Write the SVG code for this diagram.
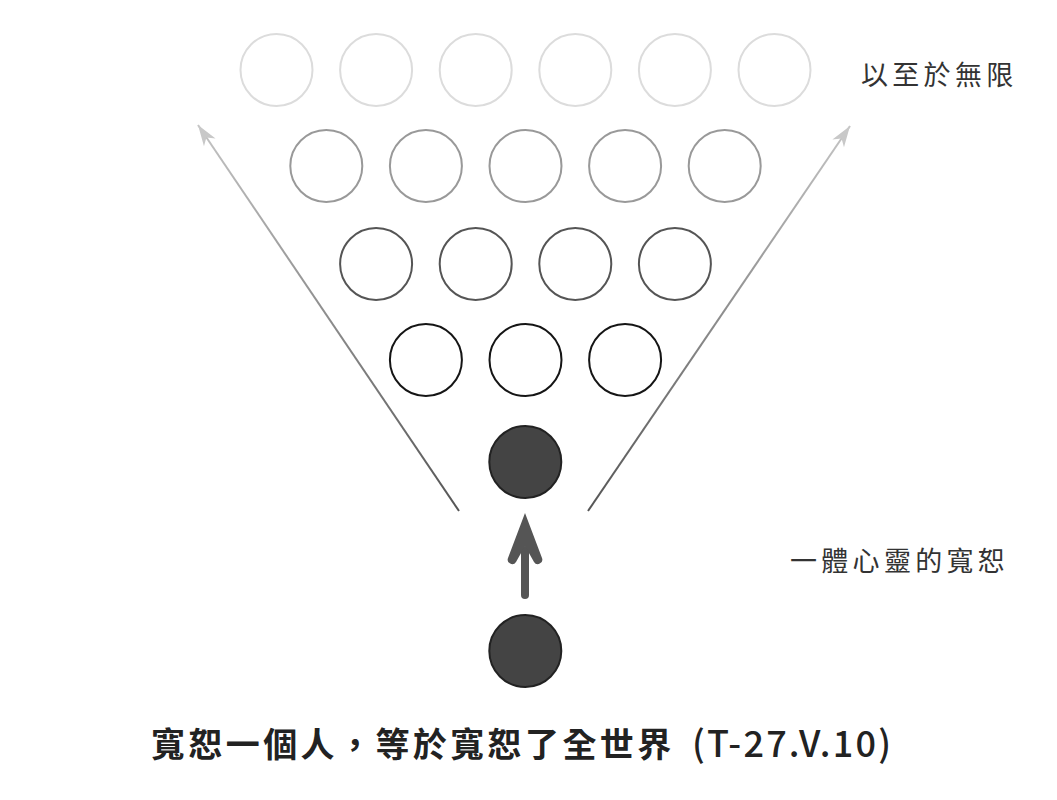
<svg xmlns="http://www.w3.org/2000/svg" width="1057" height="800" viewBox="0 0 1057 800">
<defs>
<style>
.c{fill:none;stroke-width:2}
.r1{stroke:#dcdcdc}
.r2{stroke:#999}
.r3{stroke:#555}
.r4{stroke:#151515}
.dark{fill:#444;stroke:#222;stroke-width:2}
.lbl{font-family:"Noto Sans CJK TC","Noto Sans CJK SC",sans-serif;font-size:27px;fill:#333;letter-spacing:4.3px}
.title{font-family:"Noto Sans CJK TC","Noto Sans CJK SC",sans-serif;font-size:34px;font-weight:700;fill:#222;letter-spacing:3.4px}
.latin{font-size:36px;font-weight:500;letter-spacing:2.2px}
</style>
<linearGradient id="gL" gradientUnits="userSpaceOnUse" x1="459" y1="511" x2="198" y2="125">
<stop offset="0" stop-color="#555"/><stop offset="1" stop-color="#c4c4c4"/>
</linearGradient>
<linearGradient id="gR" gradientUnits="userSpaceOnUse" x1="588" y1="511" x2="850" y2="126">
<stop offset="0" stop-color="#555"/><stop offset="1" stop-color="#c4c4c4"/>
</linearGradient>
<marker id="ah" markerUnits="userSpaceOnUse" viewBox="-22 -8 24 16" refX="0" refY="0" markerWidth="24" markerHeight="16" orient="auto">
<path d="M0,0 L-21,-7 L-15,0 L-21,7 Z" fill="#c8c8c8"/>
</marker>
</defs>
<rect width="1057" height="800" fill="#fff"/>
<g id="connectors">
<line x1="459" y1="511" x2="198" y2="125" stroke="url(#gL)" stroke-width="2" marker-end="url(#ah)"/>
<line x1="588" y1="511" x2="850" y2="126" stroke="url(#gR)" stroke-width="2" marker-end="url(#ah)"/>
<g id="up-arrow" fill="#555" stroke="#555">
<line x1="525" y1="595" x2="525" y2="550" stroke-width="8" stroke-linecap="round"/>
<path d="M525,513 L542,558 A4.5,4.5 0 0 1 534,562 L525,546 L516,562 A4.5,4.5 0 0 1 508,558 Z" stroke="none"/>
</g>
</g>
<g id="row1">
<circle class="c r1" cx="276.5" cy="70" r="36"/>
<circle class="c r1" cx="376.1" cy="70" r="36"/>
<circle class="c r1" cx="475.7" cy="70" r="36"/>
<circle class="c r1" cx="575.3" cy="70" r="36"/>
<circle class="c r1" cx="674.9" cy="70" r="36"/>
<circle class="c r1" cx="774.5" cy="70" r="36"/>
</g>
<g id="row2">
<circle class="c r2" cx="326.3" cy="166" r="36"/>
<circle class="c r2" cx="425.9" cy="166" r="36"/>
<circle class="c r2" cx="525.5" cy="166" r="36"/>
<circle class="c r2" cx="625.1" cy="166" r="36"/>
<circle class="c r2" cx="724.7" cy="166" r="36"/>
</g>
<g id="row3">
<circle class="c r3" cx="376.1" cy="264" r="36"/>
<circle class="c r3" cx="475.7" cy="264" r="36"/>
<circle class="c r3" cx="575.3" cy="264" r="36"/>
<circle class="c r3" cx="674.9" cy="264" r="36"/>
</g>
<g id="row4">
<circle class="c r4" cx="425.9" cy="360" r="36"/>
<circle class="c r4" cx="525.5" cy="360" r="36"/>
<circle class="c r4" cx="625.1" cy="360" r="36"/>
</g>
<g id="whole-mind">
<circle class="dark" cx="525.3" cy="462" r="36"/>
</g>
<g id="one-person">
<circle class="dark" cx="525.3" cy="651" r="36"/>
</g>
<g id="label-infinite">
<text class="lbl" x="861" y="85">以至於無限</text>
</g>
<g id="label-whole">
<text class="lbl" x="790" y="571">一體心靈的寬恕</text>
</g>
<g id="title">
<text class="title" x="151" y="757">寬恕一個人，等於寬恕了全世界 <tspan class="latin" x="692">(T-27.V.10)</tspan></text>
</g>
</svg>
